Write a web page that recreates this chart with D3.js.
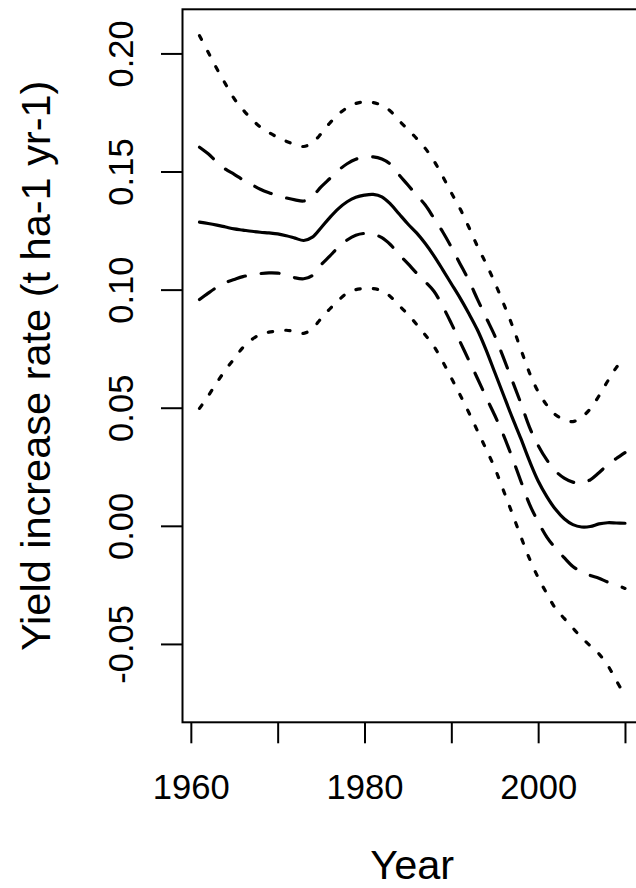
<!DOCTYPE html>
<html>
<head>
<meta charset="utf-8">
<script src="https://cdn.jsdelivr.net/npm/d3@7"></script>
<style>
  html, body { margin: 0; padding: 0; background: #fff; }
  svg { display: block; }
  text { font-family: "Liberation Sans", Arial, sans-serif; fill: #000; }
</style>
</head>
<body>
<svg id="chart" width="636" height="888"></svg>
<script>
// ---- data ----
const years = d3.range(1961, 2011);

const fit = [0.1286,0.1280,0.1273,0.1265,0.1257,0.1252,0.1247,0.1243,0.1240,0.1236,
             0.1228,0.1218,0.1208,0.1222,0.1262,0.1305,0.1343,0.1372,0.1391,0.1400,
             0.1403,0.1393,0.1362,0.1320,0.1278,0.1240,0.1195,0.1143,0.1085,0.1025,
             0.0965,0.0900,0.0830,0.0745,0.0650,0.0555,0.0460,0.0370,0.0275,0.0190,
             0.0124,0.0070,0.0030,0.0005,-0.0005,-0.0003,0.0008,0.0013,0.0012,0.0011];

const upperSE = [0.1603,0.1575,0.1540,0.1510,0.1488,0.1465,0.1445,0.1425,0.1410,0.1398,
                 0.1388,0.1380,0.1375,0.1395,0.1435,0.1470,0.1505,0.1533,0.1552,0.1560,
                 0.1562,0.1553,0.1530,0.1485,0.1443,0.1400,0.1358,0.1302,0.1245,0.1180,
                 0.1110,0.1040,0.0960,0.0882,0.0805,0.0712,0.0616,0.0520,0.0418,0.0340,
                 0.0279,0.0232,0.0202,0.0185,0.0180,0.0195,0.0225,0.0258,0.0285,0.0310];

const lowerSE = [0.0958,0.0985,0.1010,0.1030,0.1043,0.1055,0.1063,0.1068,0.1071,0.1070,
                 0.1062,0.1050,0.1046,0.1060,0.1105,0.1142,0.1180,0.1210,0.1230,0.1238,
                 0.1235,0.1220,0.1190,0.1148,0.1110,0.1070,0.1033,0.0993,0.0930,0.0857,
                 0.0780,0.0702,0.0625,0.0545,0.0468,0.0385,0.0290,0.0190,0.0092,0.0017,
                 -0.0048,-0.0095,-0.0135,-0.0172,-0.0195,-0.0210,-0.0222,-0.0238,-0.0250,-0.0265];

const upperCI = [0.2075,0.2005,0.1935,0.1870,0.1808,0.1762,0.1722,0.1688,0.1665,0.1645,
                 0.1628,0.1614,0.1606,0.1622,0.1660,0.1705,0.1742,0.1770,0.1788,0.1795,
                 0.1792,0.1780,0.1755,0.1715,0.1678,0.1640,0.1598,0.1545,0.1480,0.1410,
                 0.1343,0.1266,0.1184,0.1110,0.1030,0.0942,0.0850,0.0748,0.0648,0.0568,
                 0.0511,0.0470,0.0450,0.0441,0.0460,0.0495,0.0550,0.0612,0.0670,0.0715];

const lowerCI = [0.0497,0.0550,0.0607,0.0660,0.0708,0.0755,0.0788,0.0810,0.0820,0.0825,
                 0.0828,0.0822,0.0815,0.0835,0.0878,0.0918,0.0955,0.0985,0.1000,0.1005,
                 0.1004,0.0995,0.0970,0.0932,0.0895,0.0853,0.0808,0.0760,0.0696,0.0626,
                 0.0555,0.0481,0.0403,0.0325,0.0245,0.0150,0.0054,-0.0045,-0.0139,-0.0219,
                 -0.0287,-0.0350,-0.0392,-0.0433,-0.0473,-0.0508,-0.0542,-0.0590,-0.0655,-0.0720];

const xTicks = [1960, 1970, 1980, 1990, 2000, 2010];
const xTickLabels = ["1960", "", "1980", "", "2000", ""];
const yTicks = [-0.05, 0.00, 0.05, 0.10, 0.15, 0.20];
const yTickLabels = ["-0.05", "0.00", "0.05", "0.10", "0.15", "0.20"];

const xTitle = "Year";
const yTitle = "Yield increase rate (t ha-1 yr-1)";

// ---- layout ----
const svg = d3.select("#chart");
const box = { left: 182.5, top: 9.3, right: 642, bottom: 722.3 };

// R-style 4% padding
function rpad(ext) { const p = (ext[1] - ext[0]) * 0.04; return [ext[0] - p, ext[1] + p]; }
const allY = [].concat(fit, upperSE, lowerSE, upperCI, lowerCI);

const x = d3.scaleLinear().domain(rpad(d3.extent(years))).range([box.left, box.right]);
const y = d3.scaleLinear().domain(rpad(d3.extent(allY))).range([box.bottom, box.top]);

// ---- lines ----
const series = [
  { values: upperCI, dash: "4.3 13.2" },
  { values: upperSE, dash: "18 16" },
  { values: fit,     dash: null },
  { values: lowerSE, dash: "18 16" },
  { values: lowerCI, dash: "4.3 13.2" }
];

const line = d3.line()
  .x((d, i) => x(years[i]))
  .y(d => y(d))
  .curve(d3.curveCatmullRom.alpha(0.5));

svg.append("g").selectAll("path").data(series).join("path")
  .attr("d", d => line(d.values))
  .attr("fill", "none")
  .attr("stroke", "#000")
  .attr("stroke-width", 3.2)
  .attr("stroke-linecap", "round")
  .attr("stroke-linejoin", "round")
  .attr("stroke-dasharray", d => d.dash);

// ---- box ----
svg.append("rect")
  .attr("x", box.left).attr("y", box.top)
  .attr("width", box.right - box.left).attr("height", box.bottom - box.top)
  .attr("fill", "none").attr("stroke", "#000").attr("stroke-width", 2);

// ---- axes ----
const xAxis = d3.axisBottom(x).tickValues(xTicks)
  .tickFormat((d, i) => xTickLabels[i]).tickSize(21).tickSizeOuter(0);
const gx = svg.append("g").attr("transform", `translate(0,${box.bottom})`).call(xAxis);
gx.select(".domain").remove();
gx.selectAll(".tick line").attr("stroke", "#000").attr("stroke-width", 2);
gx.selectAll(".tick text")
  .attr("y", 76.7).attr("dy", 0)
  .style("font-size", "34.6px");

const yAxis = d3.axisLeft(y).tickValues(yTicks)
  .tickFormat((d, i) => yTickLabels[i]).tickSize(21.5).tickSizeOuter(0);
const gy = svg.append("g").attr("transform", `translate(${box.left},0)`).call(yAxis);
gy.select(".domain").remove();
gy.selectAll(".tick line").attr("stroke", "#000").attr("stroke-width", 2);
gy.selectAll(".tick text")
  .attr("x", null).attr("dy", null).attr("y", null)
  .attr("text-anchor", "middle")
  .attr("transform", "translate(-49.2,0) rotate(-90)")
  .style("font-size", "34.6px");

// ---- titles ----
svg.append("text")
  .attr("x", (box.left + box.right) / 2).attr("y", 879)
  .attr("text-anchor", "middle")
  .style("font-size", "41.5px")
  .text(xTitle);

svg.append("text")
  .attr("transform", `translate(50,${(box.top + box.bottom) / 2}) rotate(-90)`)
  .attr("text-anchor", "middle")
  .style("font-size", "41.5px")
  .text(yTitle);
</script>
</body>
</html>
